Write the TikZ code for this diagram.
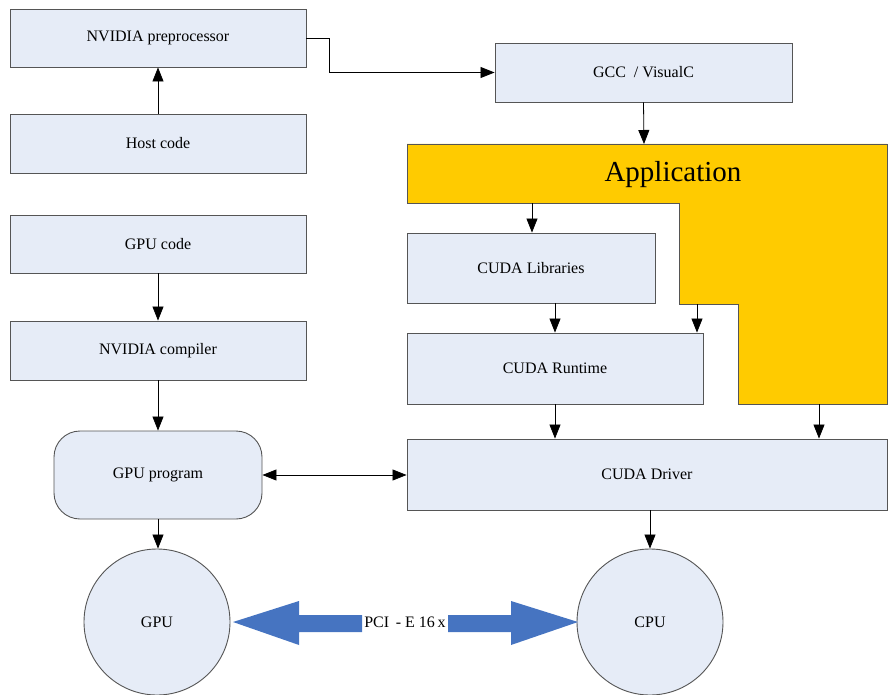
\documentclass[tikz,border=0pt]{standalone}
\usepackage{fontspec}
\setmainfont{Liberation Serif}
\usetikzlibrary{arrows.meta}
\definecolor{boxfill}{HTML}{E6ECF7}
\definecolor{boxline}{HTML}{555555}
\definecolor{appfill}{HTML}{FFCB00}
\definecolor{pciblue}{HTML}{4674C1}
\tikzset{
  box/.style={draw=boxline, fill=boxfill, line width=0.9pt, inner sep=0pt,
    font=\fontsize{16}{19}\selectfont},
  circ/.style={box, circle, minimum size=146pt},
  arr/.style={draw=black, line width=0.8pt, -{Triangle[length=14pt,width=11pt]}},
  darr/.style={draw=black, line width=0.8pt, {Triangle[length=14pt,width=11pt]}-{Triangle[length=14pt,width=11pt]}},
}
\begin{document}
\begin{tikzpicture}[x=1pt,y=-1pt]
\useasboundingbox (0,0) rectangle (888,695);
% left column
\node[box, minimum width=296pt, minimum height=58pt] (pre) at (158,38) {NVIDIA preprocessor};
\node[box, minimum width=296pt, minimum height=59pt] (host) at (158,143.5) {Host code};
\node[box, minimum width=296pt, minimum height=58pt] (gcode) at (158,244) {GPU code};
\node[box, minimum width=296pt, minimum height=59pt] (comp) at (158,350.5) {NVIDIA compiler};
\node[box, rounded corners=26pt, minimum width=208pt, minimum height=88pt] (gp) at (158,475) {GPU program};
\node[circ] (gpu) at (157,622) {GPU};
% right column
\node[box, minimum width=297pt, minimum height=59pt] (gcc) at (643.5,72.5) {GCC \ / VisualC};
\filldraw[draw=boxline, fill=appfill, line width=0.9pt]
  (407,144) -- (887,144) -- (887,404) -- (738,404) -- (738,304) -- (679,304)
  -- (679,203) -- (407,203) -- cycle;
\node[font=\fontsize{29}{33}\selectfont, inner sep=0pt] (app) at (673,175) {Application};
\coordinate (apptop) at (644,144);
\coordinate (a1) at (532,203);
\coordinate (a2) at (697,304);
\coordinate (a3) at (819,404);
\node[box, minimum width=248pt, minimum height=70pt] (libs) at (531,268) {CUDA Libraries};
\node[box, minimum width=296pt, minimum height=71pt] (run) at (555,368.5) {CUDA Runtime};
\node[box, minimum width=480pt, minimum height=71pt] (drv) at (647,474.5) {CUDA Driver};
\node[circ] (cpu) at (650,622) {CPU};
% connectors
\draw[arr] (host.north) -- (pre.south);
\draw[arr] (pre.east) -- ++(23,0) |- (gcc.west);
\draw[arr] (gcc.south) -- (apptop);
\draw[arr] (a1) -- (a1 |- libs.north);
\draw[arr] (a2) -- (a2 |- run.north);
\draw[arr] (a3) -- (a3 |- drv.north);
\draw[arr] (libs.south -| run.north) -- (run.north);
\draw[arr] (run.south) -- (run.south |- drv.north);
\draw[arr] (cpu.north |- drv.south) -- (cpu.north);
\draw[arr] (gcode.south) -- (comp.north);
\draw[arr] (comp.south) -- (gp.north);
\draw[arr] (gp.south) -- (gp.south |- gpu.north);
\draw[darr] (gp.east) -- (gp.east -| drv.west);
% PCI-E arrows
\fill[pciblue] (233,622) -- (299,601) -- (299,615) -- (362,615) -- (362,632) -- (299,632) -- (299,645) -- cycle;
\fill[pciblue] (578,622) -- (511,601) -- (511,615) -- (448,615) -- (448,632) -- (511,632) -- (511,645) -- cycle;
\node[font=\fontsize{16}{19}\selectfont, inner sep=0pt] (pci) at (405,622) {PCI \,- E 16\,x};
\end{tikzpicture}
\end{document}
